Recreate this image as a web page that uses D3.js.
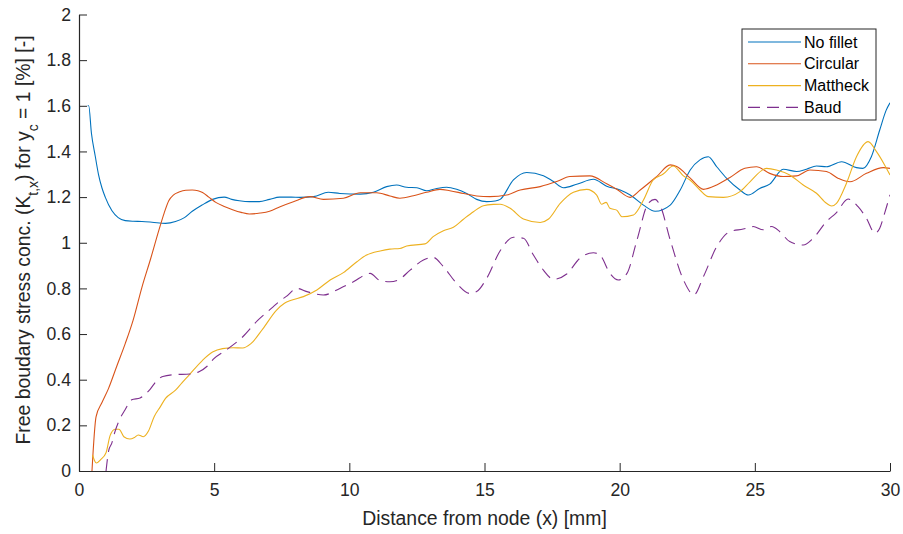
<!DOCTYPE html>
<html>
<head>
<meta charset="utf-8">
<script src="https://cdn.jsdelivr.net/npm/d3@7"></script>
<style>
  html, body { margin: 0; padding: 0; background: #fff; }
  svg { display: block; font-family: "Liberation Sans", Arial, Helvetica, sans-serif; }
</style>
</head>
<body>
<svg id="chart"></svg>
<script>
// ─── Stress concentration along the free boundary ─────────────

const X_TICKS = [0, 5, 10, 15, 20, 25, 30];
const Y_TICKS = [0, 0.2, 0.4, 0.6, 0.8, 1, 1.2, 1.4, 1.6, 1.8, 2];

const SERIES_NAMES = ["No fillet", "Circular", "Mattheck", "Baud"];

const noFillet = [
  [0.32,1.6],[0.36,1.6],[0.46,1.48],[0.6,1.38],[0.72,1.3],[0.85,1.24],[0.97,1.2],[1.22,1.14],
  [1.45,1.11],[1.71,1.097],[2.0,1.094],[2.33,1.093],[2.7,1.09],[3.2,1.085],[3.57,1.093],[3.9,1.11],
  [4.19,1.138],[4.55,1.165],[4.94,1.19],[5.37,1.2],[5.65,1.19],[5.93,1.184],[6.3,1.18],[6.67,1.18],
  [7.05,1.19],[7.42,1.2],[7.85,1.2],[8.18,1.199],[8.68,1.202],[9.22,1.221],[9.65,1.216],[10.4,1.213],
  [10.89,1.221],[11.38,1.246],[11.75,1.253],[12.12,1.243],[12.5,1.241],[12.86,1.228],[13.23,1.238],
  [13.6,1.243],[13.97,1.234],[14.34,1.216],[14.71,1.19],[15.08,1.18],[15.39,1.183],[15.58,1.19],
  [16.07,1.275],[16.56,1.308],[17.18,1.294],[17.55,1.268],[17.92,1.241],[18.41,1.256],[19.03,1.278],
  [19.52,1.248],[20.02,1.231],[20.39,1.209],[20.88,1.165],[21.31,1.138],[21.87,1.165],[22.24,1.231],
  [22.61,1.319],[22.97,1.363],[23.28,1.377],[23.59,1.333],[23.96,1.282],[24.45,1.231],[24.76,1.209],
  [25.18,1.238],[25.55,1.257],[26.05,1.322],[26.54,1.312],[26.91,1.322],[27.28,1.336],[27.65,1.333],
  [28.21,1.355],[28.76,1.329],[29.0,1.326],[29.31,1.377],[29.62,1.494],[29.86,1.581],[30,1.613]
];

const circular = [
  [0.48,0],[0.63,0.237],[0.85,0.3],[1.09,0.361],[1.4,0.46],[1.71,0.558],[2.0,0.66],[2.33,0.806],
  [2.65,0.93],[2.95,1.053],[3.15,1.13],[3.32,1.184],[3.5,1.21],[3.7,1.222],[3.95,1.23],[4.19,1.231],
  [4.4,1.228],[4.57,1.22],[4.8,1.2],[5.06,1.177],[5.35,1.16],[5.68,1.145],[6.0,1.133],[6.3,1.126],
  [6.7,1.13],[7.05,1.138],[7.44,1.158],[7.93,1.18],[8.55,1.202],[9.04,1.19],[9.78,1.195],[10.4,1.219],
  [11.01,1.219],[11.5,1.205],[11.87,1.195],[12.37,1.206],[12.86,1.221],[13.35,1.234],[13.72,1.228],
  [14.22,1.216],[14.71,1.205],[15.2,1.202],[15.82,1.209],[16.32,1.231],[17.06,1.246],[17.67,1.268],
  [18.16,1.29],[18.9,1.293],[19.52,1.258],[19.89,1.234],[20.39,1.199],[20.76,1.231],[21.37,1.29],
  [21.87,1.341],[22.11,1.334],[22.61,1.283],[23.1,1.234],[23.59,1.253],[24.08,1.286],[24.63,1.326],
  [25.06,1.333],[25.55,1.304],[26.05,1.29],[26.54,1.293],[27.04,1.319],[27.65,1.312],[28.09,1.282],
  [28.52,1.267],[29.13,1.304],[29.75,1.329],[30,1.326]
];

const mattheck = [
  [0.5,0.07],[0.64,0.035],[0.8,0.05],[1.0,0.08],[1.15,0.155],[1.33,0.183],[1.48,0.183],[1.66,0.15],
  [1.88,0.14],[2.05,0.147],[2.19,0.158],[2.38,0.15],[2.57,0.175],[2.78,0.238],[3.0,0.28],[3.2,0.318],
  [3.57,0.354],[3.8,0.385],[4.07,0.42],[4.57,0.485],[4.94,0.521],[5.31,0.536],[5.7,0.54],[6.05,0.539],
  [6.36,0.558],[6.8,0.623],[7.3,0.704],[7.6,0.735],[7.85,0.748],[8.3,0.764],[8.8,0.793],[9.29,0.837],
  [9.78,0.869],[10.28,0.917],[10.64,0.946],[11.14,0.964],[11.5,0.972],[11.87,0.975],[12.12,0.986],
  [12.8,0.995],[13.1,1.027],[13.48,1.053],[13.85,1.068],[14.22,1.103],[14.59,1.136],[14.96,1.162],
  [15.33,1.168],[15.58,1.169],[15.95,1.151],[16.44,1.104],[17.06,1.089],[17.37,1.104],[17.8,1.172],
  [18.29,1.221],[18.78,1.234],[19.15,1.209],[19.33,1.169],[19.5,1.177],[19.64,1.151],[19.89,1.143],
  [20.08,1.114],[20.51,1.122],[20.88,1.187],[21.24,1.275],[21.61,1.301],[21.98,1.336],[22.36,1.293],
  [22.6,1.275],[22.97,1.231],[23.28,1.202],[23.84,1.199],[24.45,1.224],[24.82,1.267],[25.43,1.326],
  [25.8,1.319],[26.29,1.297],[26.79,1.253],[27.28,1.217],[27.65,1.173],[27.84,1.161],[28.02,1.173],
  [28.39,1.261],[28.76,1.377],[29.19,1.443],[29.5,1.399],[29.8,1.341],[30,1.297]
];

const baud = [
  [1.0,0],[1.1,0.09],[1.21,0.121],[1.33,0.172],[1.5,0.225],[1.7,0.267],[1.95,0.312],[2.26,0.32],
  [2.63,0.358],[2.87,0.395],[3.1,0.414],[3.5,0.422],[4.1,0.425],[4.44,0.435],[4.75,0.46],[4.97,0.49],
  [5.43,0.529],[6.05,0.587],[6.61,0.66],[7.17,0.718],[7.44,0.746],[7.67,0.765],[8.06,0.8],[8.43,0.786],
  [9.04,0.771],[9.65,0.8],[10.15,0.829],[10.77,0.866],[11.14,0.834],[11.5,0.829],[11.81,0.837],
  [12.25,0.88],[12.74,0.924],[13.1,0.936],[13.48,0.895],[13.97,0.822],[14.46,0.778],[14.71,0.786],
  [15.08,0.844],[15.58,0.965],[16.07,1.024],[16.44,1.02],[16.81,0.946],[17.18,0.88],[17.55,0.84],
  [18.04,0.863],[18.53,0.932],[19.03,0.956],[19.27,0.946],[19.64,0.866],[19.95,0.837],[20.27,0.866],
  [20.64,1.012],[21.06,1.173],[21.31,1.19],[21.49,1.165],[21.87,1.012],[22.36,0.837],[22.75,0.772],
  [23.1,0.852],[23.59,0.983],[24.08,1.049],[24.57,1.06],[24.94,1.071],[25.31,1.057],[25.62,1.071],
  [25.92,1.049],[26.29,1.005],[26.79,0.99],[27.16,1.02],[27.65,1.093],[28.02,1.132],[28.45,1.192],
  [28.82,1.158],[29.13,1.107],[29.44,1.042],[29.62,1.064],[29.8,1.129],[30,1.21]
];

const COLORS = ["#0072BD", "#D95319", "#EDB120", "#7E2F8E"];
const DASHES = [null, null, null, "12,7"];
const AXIS_COLOR = "#262626";

const width = 903, height = 534;
const margin = { top: 14.5, right: 13, bottom: 63, left: 79 };

const svg = d3.select("#chart").attr("width", width).attr("height", height);

const x = d3.scaleLinear().domain([0, 30]).range([margin.left, width - margin.right]);
const y = d3.scaleLinear().domain([0, 2]).range([height - margin.bottom, margin.top]);

// Lines (clipped to the axes box)
svg.append("clipPath").attr("id", "plot-clip")
  .append("rect")
  .attr("x", margin.left).attr("y", margin.top)
  .attr("width", x(30) - x(0)).attr("height", y(0) - y(2));

const line = d3.line()
  .x(d => x(d[0]))
  .y(d => y(d[1]))
  .curve(d3.curveMonotoneX);

const allSeries = [noFillet, circular, mattheck, baud];

svg.append("g").attr("clip-path", "url(#plot-clip)")
  .selectAll("path")
  .data(allSeries)
  .join("path")
  .attr("d", d => line(d))
  .attr("fill", "none")
  .attr("stroke", (d, i) => COLORS[i])
  .attr("stroke-width", 1.1)
  .attr("stroke-dasharray", (d, i) => DASHES[i]);

// Axes: ticks point inward, no top/right box
const fmt = d3.format("~g");

const xAxis = svg.append("g")
  .attr("transform", `translate(0,${y(0)})`)
  .call(d3.axisBottom(x).tickValues(X_TICKS).tickFormat(fmt)
    .tickSizeInner(-8).tickSizeOuter(0).tickPadding(13));

const yAxis = svg.append("g")
  .attr("transform", `translate(${x(0)},0)`)
  .call(d3.axisLeft(y).tickValues(Y_TICKS).tickFormat(fmt)
    .tickSizeInner(-8).tickSizeOuter(0).tickPadding(8));

[xAxis, yAxis].forEach(ax => {
  ax.select(".domain").attr("stroke", AXIS_COLOR).attr("stroke-width", 1.2);
  ax.selectAll(".tick line").attr("stroke", AXIS_COLOR).attr("stroke-width", 1);
  ax.selectAll(".tick text")
    .attr("fill", AXIS_COLOR)
    .attr("font-size", "17.6px")
    .attr("font-family", "'Liberation Sans', Arial, Helvetica, sans-serif");
});

// Axis labels
svg.append("text")
  .attr("x", (x(0) + x(30)) / 2)
  .attr("y", 524.5)
  .attr("text-anchor", "middle")
  .attr("fill", AXIS_COLOR)
  .attr("font-size", "19.4px")
  .text("Distance from node (x) [mm]");

const yLabel = svg.append("text")
  .attr("transform", "translate(29.5,240) rotate(-90)")
  .attr("text-anchor", "middle")
  .attr("fill", AXIS_COLOR)
  .attr("font-size", "19.4px");

yLabel.append("tspan").text("Free boudary stress conc. (K");
yLabel.append("tspan").attr("dy", 8).attr("font-size", "14px").text("t,x");
yLabel.append("tspan").attr("dy", -8).text(") for y");
yLabel.append("tspan").attr("dy", 8).attr("font-size", "14px").text("c");
yLabel.append("tspan").attr("dy", -8).text(" = 1 [%] [-]");

// Legend
const legend = svg.append("g").attr("transform", "translate(742,29)");

legend.append("rect")
  .attr("width", 134).attr("height", 91)
  .attr("fill", "#fff")
  .attr("stroke", AXIS_COLOR)
  .attr("stroke-width", 1);

const rows = legend.selectAll("g.row")
  .data(SERIES_NAMES)
  .join("g")
  .attr("class", "row")
  .attr("transform", (d, i) => `translate(0,${13 + i * 21.8})`);

rows.append("line")
  .attr("x1", 6).attr("x2", 59)
  .attr("stroke", (d, i) => COLORS[i])
  .attr("stroke-width", 1.1)
  .attr("stroke-dasharray", (d, i) => DASHES[i]);

rows.append("text")
  .attr("x", 62)
  .attr("dy", "0.35em")
  .attr("fill", "#000")
  .attr("font-size", "16px")
  .text(d => d);
</script>
</body>
</html>
